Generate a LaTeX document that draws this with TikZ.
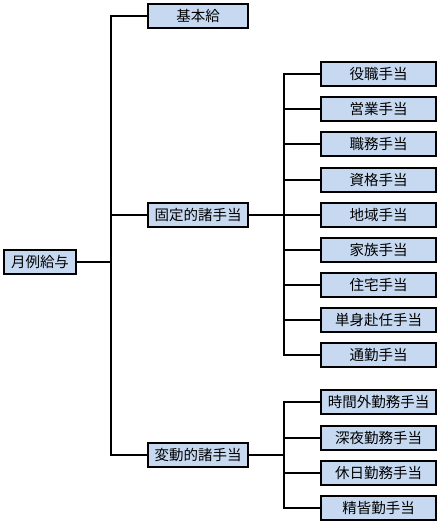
\documentclass[tikz,border=0pt]{standalone}
\usepackage{fontspec}
\setmainfont{Noto Sans CJK JP}
\definecolor{boxfill}{RGB}{198,217,241}
\begin{document}
\begin{tikzpicture}[x=1pt,y=-1pt,
  box/.style={draw=black,line width=1.6pt,fill=boxfill,minimum height=24pt,inner sep=0pt,font=\fontsize{14.5}{15}\selectfont},
  mid/.style={box,minimum width=100pt},
  leaf/.style={box,minimum width=115pt},
  conn/.style={line width=1.5pt,black}]
\useasboundingbox (0,0) rectangle (441,522);
\node[box,minimum width=72pt] (root) at (40,262) {月例給与};
\node[mid] (kihon) at (198,16) {基本給};
\node[mid] (kotei) at (198,215) {固定的諸手当};
\node[mid] (hendo) at (198,455) {変動的諸手当};
\coordinate (j1) at (111,262);
\coordinate (j2) at (111,215);
\coordinate (k) at (284,215);
\coordinate (h) at (284,455);
\foreach \n/\t/\y in {f1/役職手当/74,f2/営業手当/109,f3/職務手当/144,f4/資格手当/180,f5/地域手当/215,f6/家族手当/250,f7/住宅手当/285,f8/単身赴任手当/320,f9/通勤手当/355,v1/時間外勤務手当/402,v2/深夜勤務手当/438,v3/休日勤務手当/473,v4/精皆勤手当/508}
  \node[leaf] (\n) at (378.5,\y) {\t};
\draw[conn] (root.east) -- (j1);
\draw[conn] (kihon.west) -| (j1) |- (hendo.west);
\draw[conn] (j2) -- (kotei.west);
\draw[line width=2.2pt] (kotei.east) -- (k);
\draw[conn] (f1.west) -| (k) |- (f9.west);
\foreach \n in {f2,f3,f4,f5,f6,f7,f8}
  \draw[conn] (k |- \n.west) -- (\n.west);
\draw[conn] (hendo.east) -- (h);
\draw[conn] (v1.west) -| (h) |- (v4.west);
\foreach \n in {v2,v3}
  \draw[conn] (h |- \n.west) -- (\n.west);
\end{tikzpicture}
\end{document}
